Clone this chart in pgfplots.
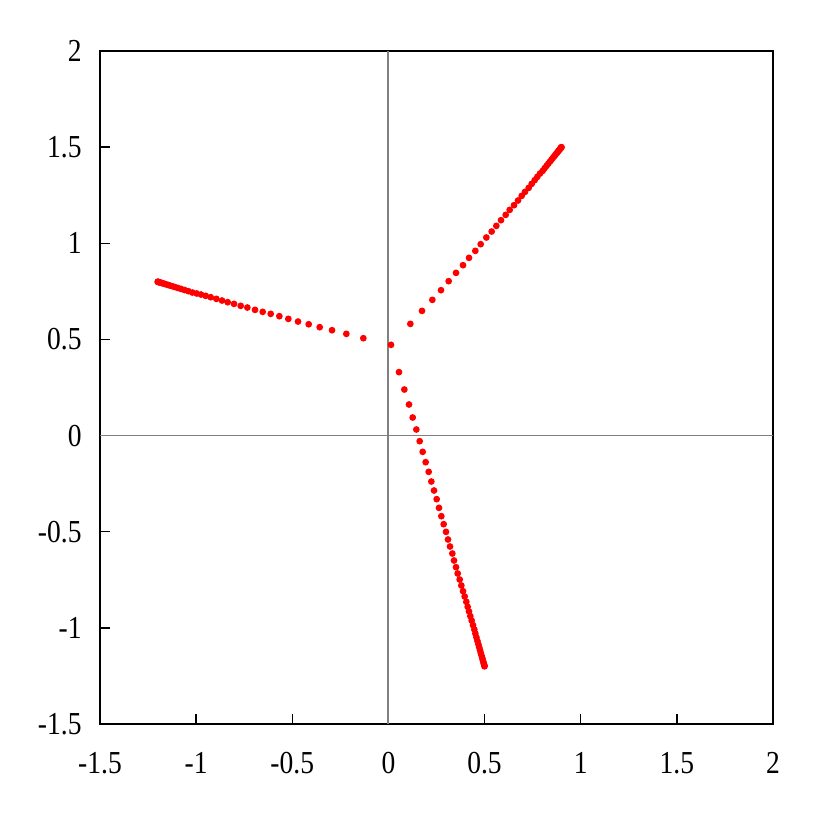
\documentclass[border=0pt]{standalone}
\usepackage{fontspec}
\setmainfont{Liberation Serif}
\newfontfamily\tickfont[FakeStretch=0.86]{Liberation Serif}
\usepackage{pgfplots}
\pgfplotsset{compat=1.18}

\begin{document}
\begin{tikzpicture}[x=0.3pt,y=0.3pt]
% fix the page: 817 x 817 px, axis box 100..773 (x) and 51..724 (y from top)
\useasboundingbox (-100,-93) rectangle (717,724);
\begin{axis}[
  at={(0,0)}, anchor=south west,
  scale only axis,
  width=201.9pt, height=201.9pt,
  xmin=-1.5, xmax=2,
  ymin=-1.5, ymax=2,
  xtick={-1.5,-1,...,2},
  ytick={-1.5,-1,...,2},
  xtick pos=bottom, ytick pos=left,
  tick align=inside,
  major tick length=3pt,
  tick style={black, line width=0.4pt},
  axis line style={black, line width=0.4pt},
  /pgf/number format/assume math mode=true,
  /pgf/number format/fixed,
  ticklabel style={font=\tickfont\fontsize{9.6}{10}\selectfont},
  xticklabel style={yshift=-5pt},
  yticklabel style={xshift=-2pt},
  clip=false,
]

% zero lines
\draw[black!50, line width=0.55pt] (axis cs:0,-1.5) -- (axis cs:0,2);
\draw[black!50, line width=0.55pt] (axis cs:-1.5,0) -- (axis cs:2,0);

% left branch
\addplot[only marks, mark=*, mark size=0.8pt, red, mark options={draw=red, fill=red}] coordinates {
  (-1.2,0.8) (-1.1985,0.7995) (-1.196,0.7988) (-1.1925,0.7977) (-1.1882,0.7964)
  (-1.1832,0.7948) (-1.1775,0.7931) (-1.171,0.7911) (-1.1635,0.7888) (-1.155,0.7862)
  (-1.1455,0.7833) (-1.135,0.7800) (-1.123,0.7764) (-1.1095,0.7722) (-1.0945,0.7676)
  (-1.078,0.7625) (-1.060,0.757) (-1.0405,0.751) (-1.0197,0.744) (-0.997,0.739)
  (-0.9746,0.7336) (-0.9503,0.7267) (-0.9243,0.7197) (-0.8948,0.711) (-0.8654,0.7024)
  (-0.8359,0.6937) (-0.803,0.685) (-0.7683,0.6747) (-0.7336,0.666) (-0.6937,0.6539)
  (-0.6539,0.6435) (-0.6123,0.633) (-0.5672,0.621) (-0.5204,0.607) (-0.4701,0.593)
  (-0.4146,0.579) (-0.3574,0.5637) (-0.2933,0.548) (-0.2188,0.529) (-0.1304,0.5065)
};

% upper right branch
\addplot[only marks, mark=*, mark size=0.8pt, red, mark options={draw=red, fill=red}] coordinates {
  (0.9,1.5) (0.899,1.4988) (0.8975,1.4969) (0.8955,1.4944) (0.893,1.4912)
  (0.89,1.4875) (0.8865,1.4831) (0.8825,1.4781) (0.878,1.4724) (0.873,1.4662)
  (0.8675,1.4593) (0.8615,1.4518) (0.855,1.4436) (0.848,1.4348) (0.8405,1.4254)
  (0.832,1.4148) (0.8225,1.4029) (0.8127,1.3906) (0.8023,1.3767) (0.7884,1.3629)
  (0.7745,1.3455) (0.7607,1.3282) (0.7451,1.3091) (0.7295,1.2883) (0.7104,1.2675)
  (0.6931,1.2467) (0.674,1.2225) (0.6532,1.1982) (0.6307,1.1739) (0.6099,1.1479)
  (0.5856,1.1202) (0.5613,1.0907) (0.537,1.0613) (0.5093,1.0301) (0.4799,0.9954)
  (0.4521,0.9607) (0.4192,0.9243) (0.388,0.8862) (0.3516,0.8463) (0.3134,0.803)
  (0.2735,0.7562) (0.2285,0.7059) (0.1747,0.6487) (0.1141,0.581)
};

% lower branch
\addplot[only marks, mark=*, mark size=0.8pt, red, mark options={draw=red, fill=red}] coordinates {
  (0.5,-1.2) (0.4990,-1.1965) (0.4976,-1.1915) (0.4957,-1.1845) (0.4933,-1.176)
  (0.4906,-1.1665) (0.4877,-1.156) (0.4843,-1.144) (0.4806,-1.131) (0.4767,-1.117)
  (0.4725,-1.102) (0.4679,-1.0855) (0.4630,-1.068) (0.4576,-1.049) (0.4521,-1.0293)
  (0.4469,-1.0086) (0.4400,-0.9860) (0.433,-0.9618) (0.4261,-0.9392) (0.4192,-0.9149)
  (0.4122,-0.8907) (0.4053,-0.8647) (0.3966,-0.8369) (0.388,-0.8092) (0.3793,-0.7797)
  (0.3706,-0.7485) (0.3602,-0.7173) (0.3516,-0.6844) (0.3412,-0.6497) (0.3325,-0.6133)
  (0.3203,-0.5769) (0.3099,-0.5405) (0.2995,-0.5007) (0.2874,-0.4608) (0.2753,-0.4192)
  (0.2631,-0.3758) (0.251,-0.3307) (0.2371,-0.2857) (0.2233,-0.2389) (0.2094,-0.1886)
  (0.1938,-0.1383) (0.1782,-0.0846) (0.1626,-0.0291) (0.1453,0.0316) (0.1262,0.094)
  (0.1071,0.1616) (0.0828,0.2396) (0.055,0.330) (0.0135,0.472)
};

\end{axis}
\end{tikzpicture}
\end{document}
